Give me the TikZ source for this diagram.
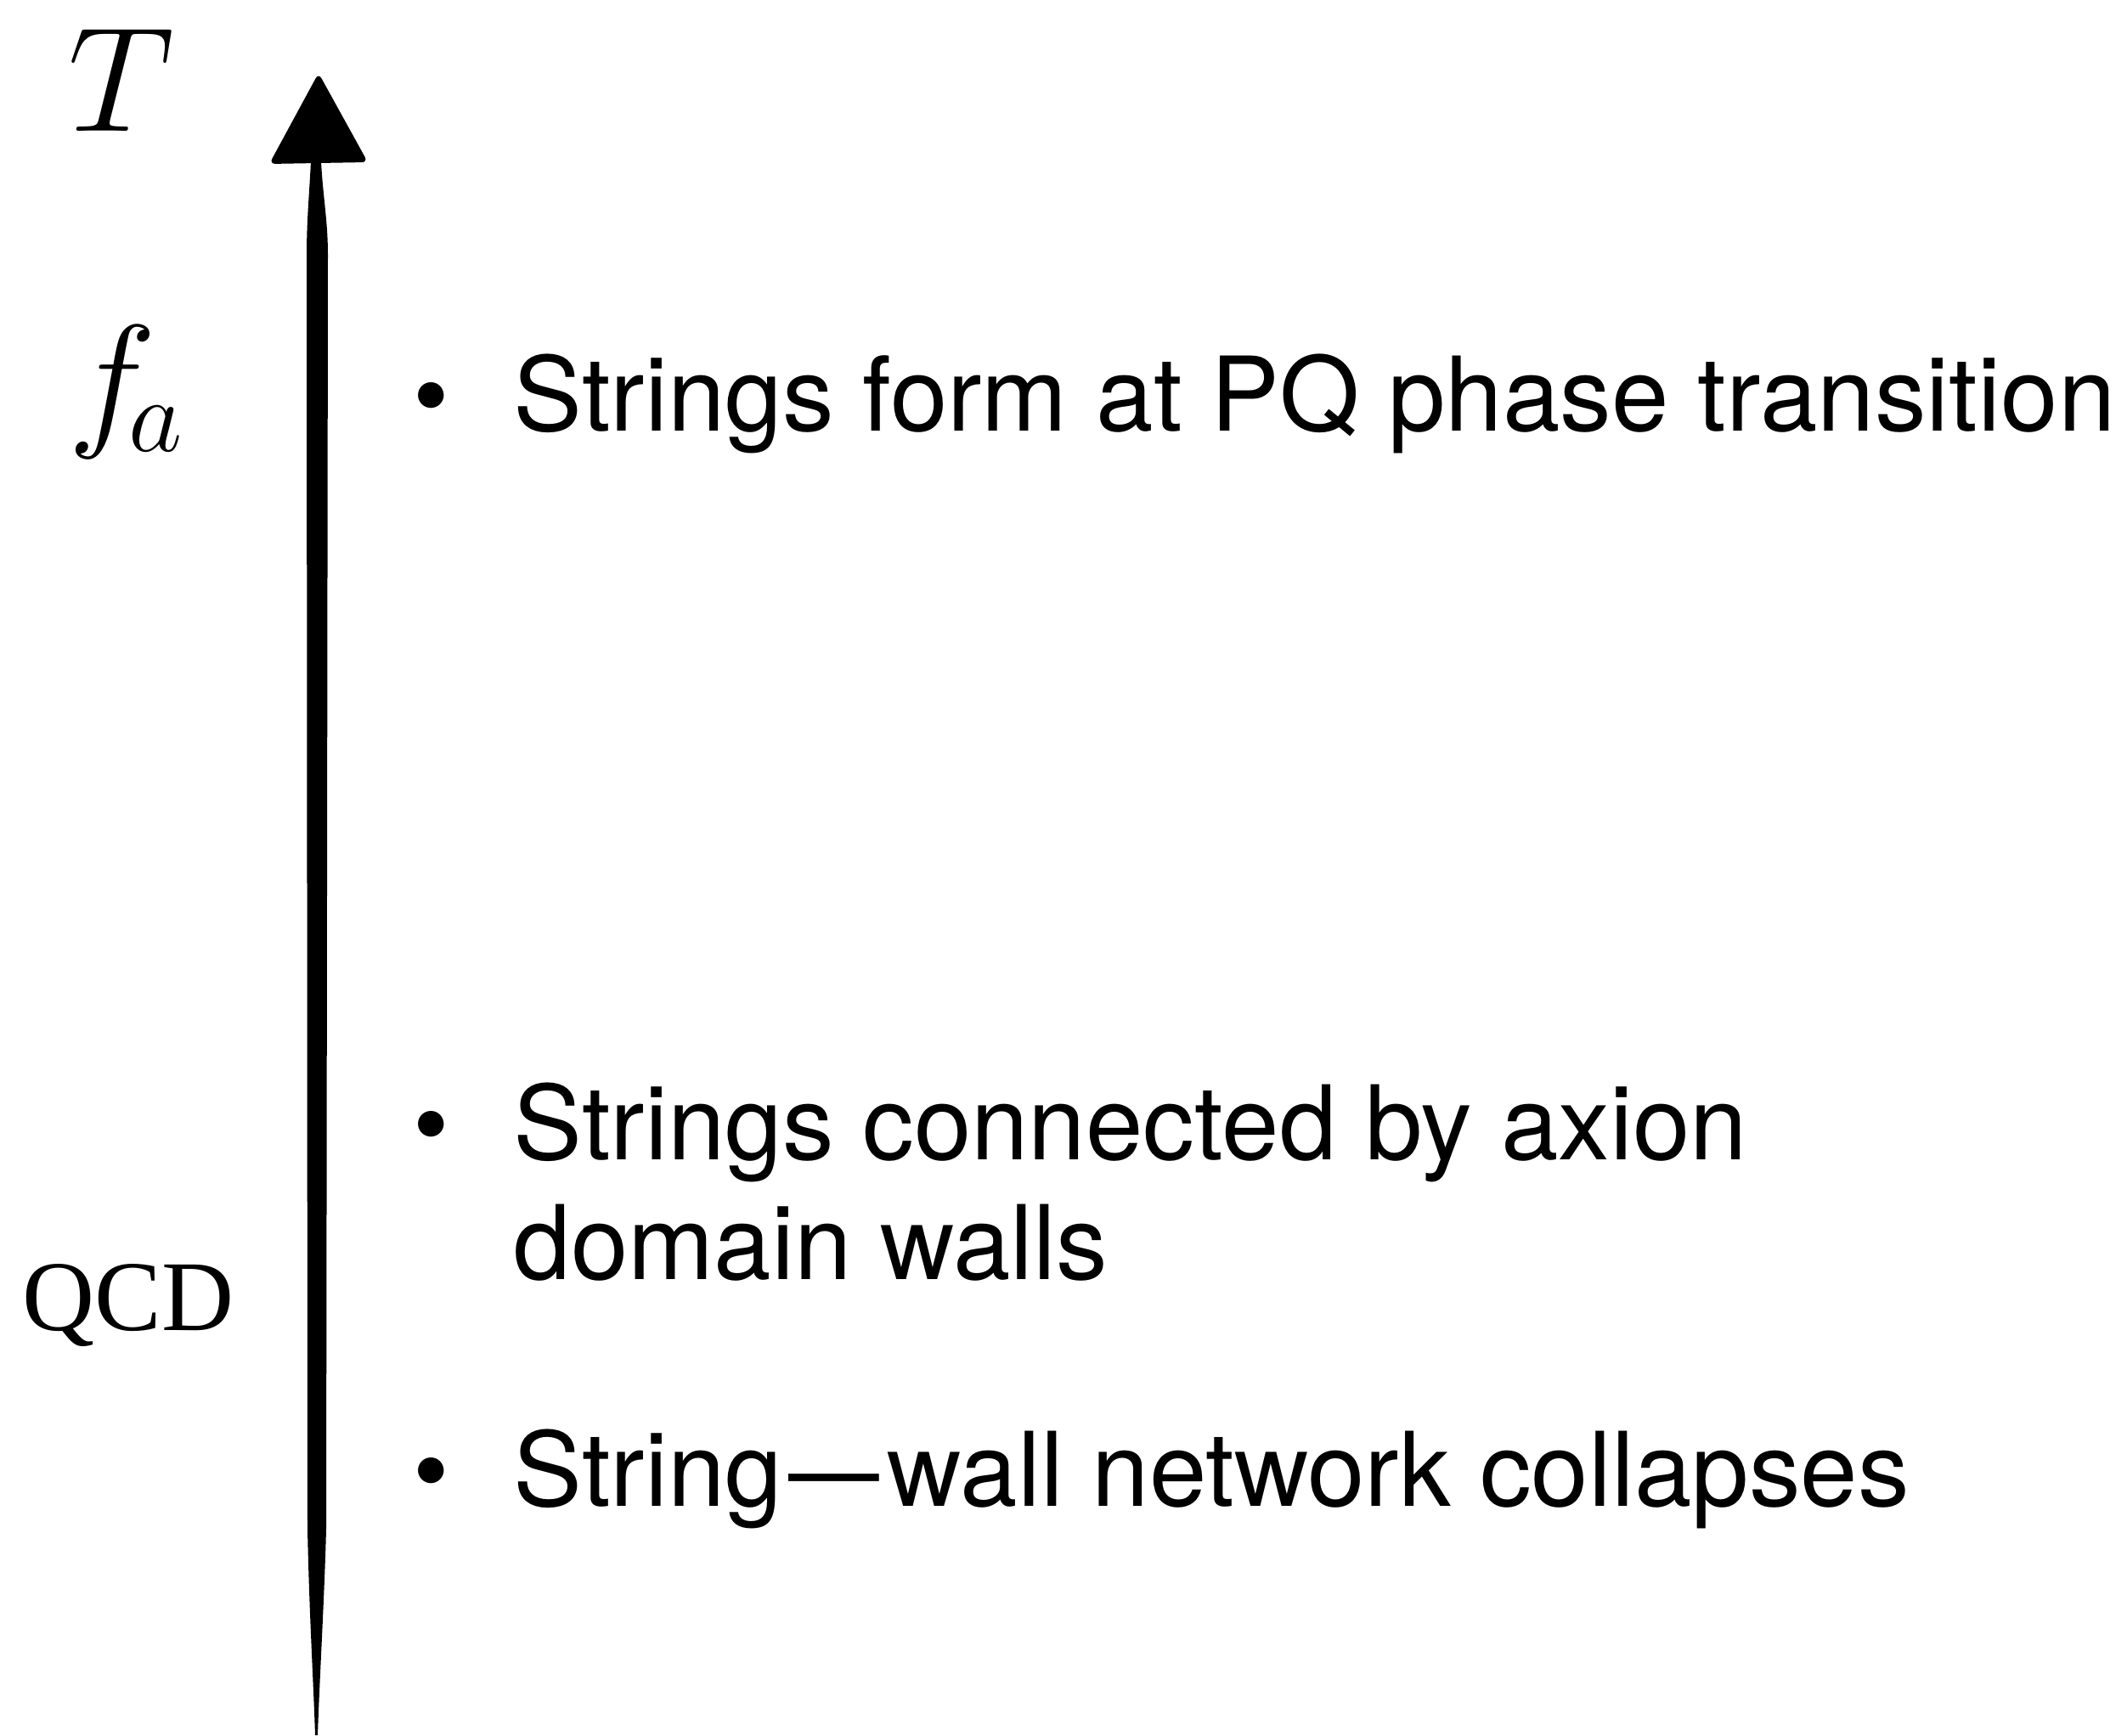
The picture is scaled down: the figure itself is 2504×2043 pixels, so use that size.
\RequirePackage{fix-cm}
\documentclass[tikz,border=0pt]{standalone}
\usepackage{amsmath}
\usepackage{graphicx}
\usepackage{fontspec}
\newfontfamily\helv{TeX Gyre Heros}
\newfontfamily\tmsfont{Liberation Serif}
\usepackage{tikz}

\tikzset{
  item/.style={anchor=base west, inner sep=0pt,
    font=\helv\fontsize{34.5pt}{40pt}\selectfont},
  dot/.style={anchor=base, inner sep=0pt,
    font=\helv\fontsize{34.5pt}{40pt}\selectfont},
  lbl/.style={anchor=base west, inner sep=0pt,
    font=\fontsize{50pt}{60pt}\selectfont},
  qcdlbl/.style={anchor=base west, inner sep=0pt,
    font=\tmsfont\fontsize{33.5pt}{40pt}\selectfont}
}

\begin{document}
\begin{tikzpicture}[x=0.01cm, y=-0.01cm]
\useasboundingbox (0,0) rectangle (2504,2043);
%%time axis
%head
\fill[rounded corners=2pt] (317,193) -- (375,86) -- (433,191) -- cycle;
%shaft
\fill (366,190) .. controls (364,230) and (361,260) .. (361,300)
  -- (362,1800) .. controls (364,1900) and (369,1980) .. (371,2043)
  -- (374,2043) .. controls (376,1980) and (382,1880) .. (384,1800)
  -- (386,300) .. controls (386,260) and (380,230) .. (378,190) -- cycle;
%%scales
\node[lbl] (T) at (80,155) {$T$};
\node[lbl] (fa) at (80,505) {$f_{\mkern-2mu a}$};
\node[qcdlbl] (qcd) at (26,1566) {QCD};
%%events
%PQ transition
\node[dot] (b1) at (508,508) {\textbullet};
\node[item] (pq) at (604,508) {Strings form at PQ phase transition};
%walls
\node[dot] (b2) at (508,1365) {\textbullet};
\node[item] (dw) at (604,1365) {Strings connected by axion};
\node[item] (dwb) at (604,1506) {domain walls};
%collapse
\node[dot] (b3) at (508,1773) {\textbullet};
\node[item] (sw) at (604,1773)
  {String\kern0.06em\scalebox{0.88}[1]{\textemdash}\kern0.08em wall network collapses};
\end{tikzpicture}
\end{document}
